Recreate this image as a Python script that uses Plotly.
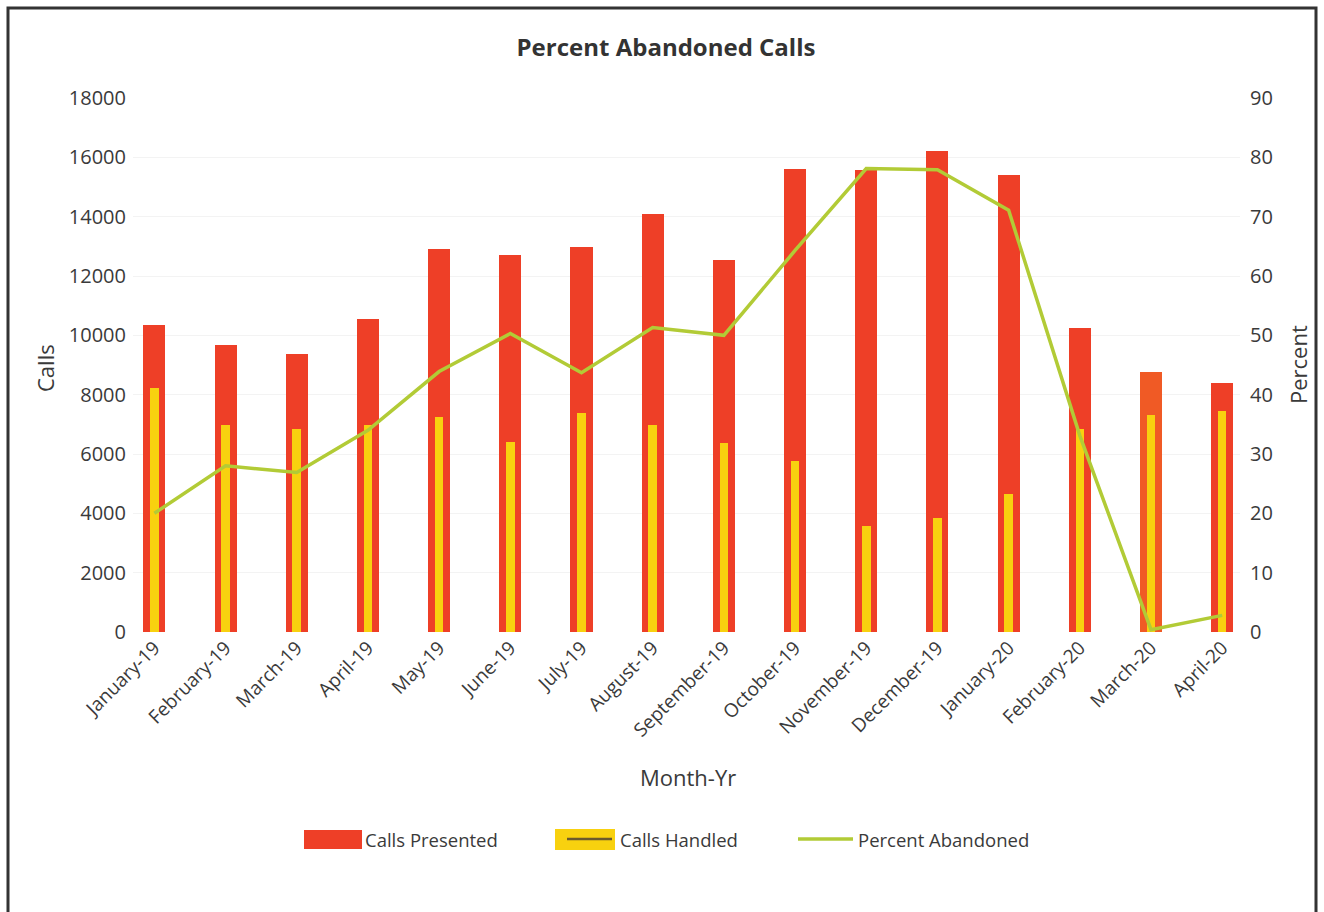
import plotly.graph_objects as go

# Monthly call-centre figures
months = ["January-19", "February-19", "March-19", "April-19", "May-19", "June-19",
          "July-19", "August-19", "September-19", "October-19", "November-19",
          "December-19", "January-20", "February-20", "March-20", "April-20"]
calls_presented = [10350, 9680, 9360, 10540, 12910, 12720, 12970, 14090,
                   12540, 15620, 15560, 16220, 15400, 10250, 8780, 8410]
calls_handled = [8240, 6970, 6850, 6990, 7240, 6420, 7380, 6980,
                 6360, 5750, 3590, 3830, 4650, 6850, 7330, 7450]
percent_abandoned = [20.0, 28.0, 26.9, 34.0, 43.9, 50.3, 43.7, 51.3,
                     50.0, 64.3, 78.1, 77.9, 71.1, 33.1, 0.4, 2.8]

calls_ticks = list(range(0, 18001, 2000))
percent_ticks = list(range(0, 91, 10))

W, H = 1324, 912
L, R, T, B = 133, 1240, 98, 632   # plot area in pixels

RED = "#EE3F27"
YELLOW = "#F8D10F"
GREEN = "#B2CB36"
FONT = "Open Sans"
TXT = "#3a3a3a"


def px(x):
    return (x - L) / (R - L)


def py(y):
    return (B - y) / (B - T)


red_colors = [RED] * len(months)
red_colors[months.index("March-20")] = "#F05A25"

fig = go.Figure()
fig.add_trace(go.Bar(x=months, y=calls_presented, name="Calls Presented",
                     width=0.31, marker=dict(color=red_colors, line_width=0)))
fig.add_trace(go.Bar(x=months, y=calls_handled, name="Calls Handled",
                     width=0.12, marker=dict(color=YELLOW, line_width=0)))
fig.add_trace(go.Scatter(x=months, y=percent_abandoned, name="Percent Abandoned",
                         yaxis="y2", mode="lines",
                         line=dict(color=GREEN, width=3.5)))

shapes = []
annotations = []

# outer chart frame
shapes.append(dict(type="rect", xref="paper", yref="paper",
                   x0=px(8), x1=px(1316), y0=py(8), y1=py(930),
                   line=dict(color="#333333", width=3), fillcolor="rgba(0,0,0,0)"))

# legend row
shapes.append(dict(type="rect", xref="paper", yref="paper",
                   x0=px(304), x1=px(362), y0=py(849), y1=py(830),
                   line_width=0, fillcolor=RED))
shapes.append(dict(type="rect", xref="paper", yref="paper",
                   x0=px(555), x1=px(615), y0=py(850), y1=py(829),
                   line_width=0, fillcolor=YELLOW))
shapes.append(dict(type="line", xref="paper", yref="paper",
                   x0=px(567), x1=px(612), y0=py(839), y1=py(839),
                   line=dict(color="#6B5A2C", width=2.5)))
shapes.append(dict(type="line", xref="paper", yref="paper",
                   x0=px(798), x1=px(853), y0=py(839), y1=py(839),
                   line=dict(color=GREEN, width=3.5)))
for label, x0 in [("Calls Presented", 363), ("Calls Handled", 618),
                  ("Percent Abandoned", 856)]:
    annotations.append(dict(text=label, xref="paper", yref="paper",
                            x=px(x0), y=py(839), xanchor="left", yanchor="middle",
                            showarrow=False, font=dict(family=FONT, size=18.5, color=TXT)))

# axis titles
annotations.append(dict(text="Calls", xref="paper", yref="paper", x=px(45), y=py(368),
                        textangle=-90, showarrow=False, xanchor="center", yanchor="middle",
                        font=dict(family=FONT, size=22, color=TXT)))
annotations.append(dict(text="Percent", xref="paper", yref="paper", x=px(1298), y=py(365),
                        textangle=-90, showarrow=False, xanchor="center", yanchor="middle",
                        font=dict(family=FONT, size=22, color=TXT)))
annotations.append(dict(text="Month-Yr", xref="paper", yref="paper", x=px(688), y=py(777),
                        showarrow=False, xanchor="center", yanchor="middle",
                        font=dict(family=FONT, size=22, color=TXT)))

fig.update_layout(
    width=W, height=H,
    margin=dict(l=L, r=W - R, t=T, b=H - B, pad=0),
    paper_bgcolor="white", plot_bgcolor="white",
    barmode="overlay", bargap=0,
    showlegend=False,
    title=dict(text="<b>Percent Abandoned Calls</b>", x=666 / W, xanchor="center",
               y=1 - 48 / H, yanchor="middle",
               font=dict(family=FONT, size=24, color="#333333")),
    xaxis=dict(range=[-0.3, 15.25], tickangle=-45, showgrid=False, zeroline=False,
               showline=False, ticks="",
               tickfont=dict(family=FONT, size=19, color=TXT)),
    yaxis=dict(range=[0, 18000], tickvals=calls_ticks,
               ticktext=[str(v) for v in calls_ticks], showgrid=True,
               gridcolor="#F3F3F3", zeroline=False, showline=False, ticks="",
               ticklabelstandoff=6,
               tickfont=dict(family=FONT, size=20, color=TXT)),
    yaxis2=dict(range=[0, 90], tickvals=percent_ticks,
                ticktext=[str(v) for v in percent_ticks], overlaying="y", side="right",
                showgrid=False, zeroline=False, showline=False, ticks="",
                ticklabelstandoff=9,
                tickfont=dict(family=FONT, size=20, color=TXT)),
    shapes=shapes,
    annotations=annotations,
)

fig.write_html("out.html")
